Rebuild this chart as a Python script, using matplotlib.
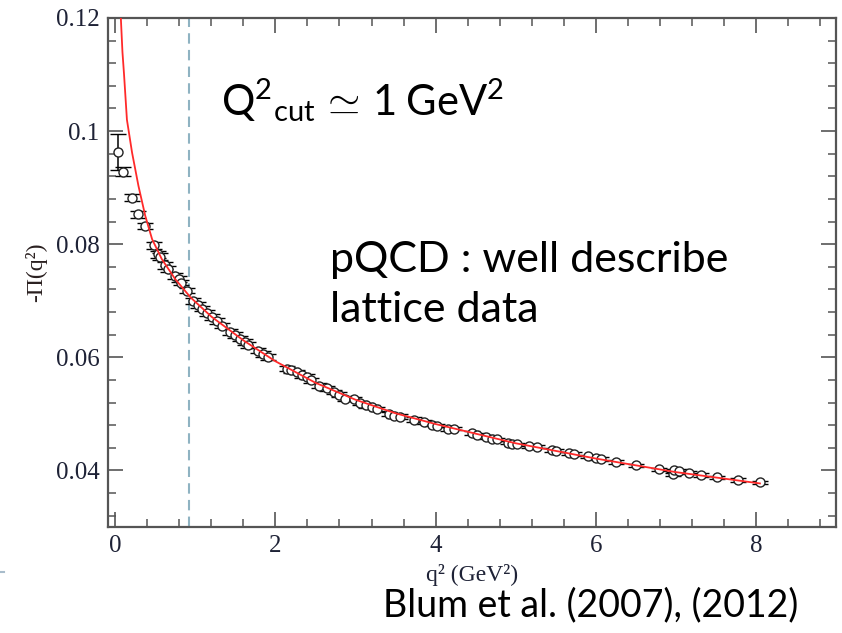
import numpy as np
import matplotlib
matplotlib.use('Agg')
import matplotlib.pyplot as plt
from matplotlib.ticker import MultipleLocator
from matplotlib.lines import Line2D

# 格子数据点 (q^2, -Pi(q^2), 误差)
q2 = [0.03, 0.10, 0.21, 0.29, 0.375, 0.48, 0.54, 0.56, 0.625, 0.66,
      0.75, 0.79, 0.825, 0.90, 0.975, 1.03, 1.084, 1.15, 1.209, 1.27,
      1.334, 1.4375, 1.50, 1.5625, 1.62, 1.6625, 1.7875, 1.85, 1.9125, 2.146,
      2.20, 2.27, 2.33, 2.396, 2.44, 2.54, 2.65, 2.73, 2.80, 2.875,
      2.98, 3.05, 3.125, 3.20, 3.27, 3.42, 3.48, 3.56, 3.73, 3.85,
      3.95, 4.02, 4.15, 4.23, 4.46, 4.52, 4.625, 4.70, 4.77, 4.90,
      4.96, 5.02, 5.17, 5.27, 5.45, 5.50, 5.67, 5.73, 5.90, 6.00,
      6.06, 6.25, 6.50, 6.79, 6.96, 6.98, 7.04, 7.17, 7.31, 7.52,
      7.77, 8.05]
pi_val = [0.0963, 0.0928, 0.0882, 0.0853, 0.0832, 0.0798, 0.0782, 0.0778, 0.0763, 0.0756,
          0.0744, 0.0738, 0.0732, 0.0718, 0.0700, 0.0693, 0.0686, 0.0678, 0.0671, 0.0664,
          0.0656, 0.0645, 0.0639, 0.0633, 0.0627, 0.0622, 0.0612, 0.0606, 0.0601, 0.0580,
          0.0577, 0.0574, 0.0568, 0.0566, 0.0559, 0.0550, 0.0545, 0.0539, 0.0534, 0.0527,
          0.0526, 0.0519, 0.0515, 0.0512, 0.0509, 0.0500, 0.0497, 0.0495, 0.0490, 0.0486,
          0.0481, 0.0479, 0.0473, 0.0474, 0.0466, 0.0463, 0.0459, 0.0456, 0.0455, 0.0449,
          0.0447, 0.0446, 0.0443, 0.0442, 0.0436, 0.0435, 0.0430, 0.0429, 0.0425, 0.0422,
          0.0420, 0.0415, 0.0409, 0.0402, 0.0393, 0.0400, 0.0399, 0.0396, 0.0392, 0.0388,
          0.0383, 0.0379]
pi_err = [0.0032, 0.0008, 0.0006, 0.0006, 0.0006, 0.0006, 0.0006, 0.0006, 0.0006, 0.0006,
          0.0005, 0.0005, 0.0005, 0.0005, 0.0005, 0.0005, 0.0005, 0.0005, 0.0005, 0.0005,
          0.0005, 0.0005, 0.0005, 0.0005, 0.0005, 0.0005, 0.0005, 0.0005, 0.0005, 0.0004,
          0.0004, 0.0004, 0.0004, 0.0004, 0.0004, 0.0004, 0.0004, 0.0004, 0.0004, 0.0004,
          0.0004, 0.0004, 0.0004, 0.0004, 0.0004, 0.0004, 0.0004, 0.0004, 0.0004, 0.0004,
          0.0003, 0.0003, 0.0003, 0.0003, 0.0003, 0.0003, 0.0003, 0.0003, 0.0003, 0.0003,
          0.0003, 0.0003, 0.0003, 0.0003, 0.0003, 0.0003, 0.0003, 0.0003, 0.0003, 0.0003,
          0.0003, 0.0003, 0.0003, 0.0003, 0.0003, 0.0003, 0.0003, 0.0003, 0.0003, 0.0003,
          0.0003, 0.0003]

# pQCD 曲线
fit_q2 = [0.07, 0.09, 0.11, 0.146, 0.21, 0.29, 0.375, 0.46, 0.58, 0.75, 0.94,
          1.2, 1.6, 2.0, 2.5, 3.0, 3.5, 4.0, 5.0, 6.0, 7.0, 8.05]
fit_pi = [0.1200, 0.1140, 0.1100, 0.1020, 0.0962, 0.0903, 0.0850, 0.0809, 0.0774, 0.0738, 0.0706,
          0.0672, 0.0630, 0.0593, 0.0555, 0.0525, 0.0501, 0.0482, 0.0448, 0.0421, 0.0397, 0.0377]

q2_cut = 0.92

plt.rcParams['mathtext.fontset'] = 'custom'
plt.rcParams['mathtext.rm'] = 'Lato'
plt.rcParams['mathtext.it'] = 'Lato'

fig = plt.figure(figsize=(8.42, 6.33), dpi=100)
ax = fig.add_axes([0.1283, 0.1675, 0.8646, 0.8041])

ax.axvline(q2_cut, color='#8fb3c2', lw=1.5, ls=(0, (5, 3)), zorder=1)
ax.errorbar(q2, pi_val, yerr=pi_err, fmt='o', ms=6.5, mfc='white', mec='#222222',
            mew=1.0, ecolor='black', elinewidth=1.1, capsize=6, capthick=1.2, zorder=2)
ax.plot(fit_q2, fit_pi, color='#ff2a2a', lw=1.3, zorder=3)

ax.set_xlim(-0.09, 9.0)
ax.set_ylim(0.03, 0.12)
ax.xaxis.set_major_locator(MultipleLocator(2))
ax.xaxis.set_minor_locator(MultipleLocator(0.4))
ax.yaxis.set_major_locator(MultipleLocator(0.02))
ax.yaxis.set_minor_locator(MultipleLocator(0.004))
ax.set_yticks([0.04, 0.06, 0.08, 0.1, 0.12])
ax.set_yticklabels(['0.04', '0.06', '0.08', '0.1', '0.12'])

ax.tick_params(which='both', direction='in', top=True, right=True, color='#555555')
ax.tick_params(which='major', length=11, width=1.2, labelsize=18, pad=6)
ax.tick_params(which='minor', length=6, width=1.1)
for lab in ax.get_xticklabels() + ax.get_yticklabels():
    lab.set_family('Liberation Serif')
    lab.set_color('#1e2236')
for s in ax.spines.values():
    s.set_color('#555555')
    s.set_linewidth(1.6)

ax.set_ylabel('-Π(q²)', family='Liberation Serif', fontsize=17, color='#2a2020', labelpad=6)
ax.set_xlabel('q² (GeV²)', family='Liberation Serif', fontsize=17, color='#1e2236', labelpad=5)

fig.text(0.262, 0.818, r'$\mathrm{Q}^{2}{}_{\mathrm{cut}}\,\simeq\,\mathrm{1}\;\mathrm{GeV}^{2}$',
         fontsize=30, color='black', va='baseline')
fig.text(0.392, 0.570, 'pQCD : well describe', family=['Lato', 'DejaVu Sans'],
         fontsize=31, color='black', va='baseline')
fig.text(0.392, 0.491, 'lattice data', family=['Lato', 'DejaVu Sans'],
         fontsize=31, color='black', va='baseline')
fig.text(0.455, 0.026, 'Blum et al. (2007), (2012)', family=['Lato', 'DejaVu Sans'],
         fontsize=27, color='black', va='baseline')

fig.add_artist(Line2D([0.0, 0.005], [0.0965, 0.0965], color='#a8bccb', lw=1.5))

fig.savefig('out.png', dpi=100)
